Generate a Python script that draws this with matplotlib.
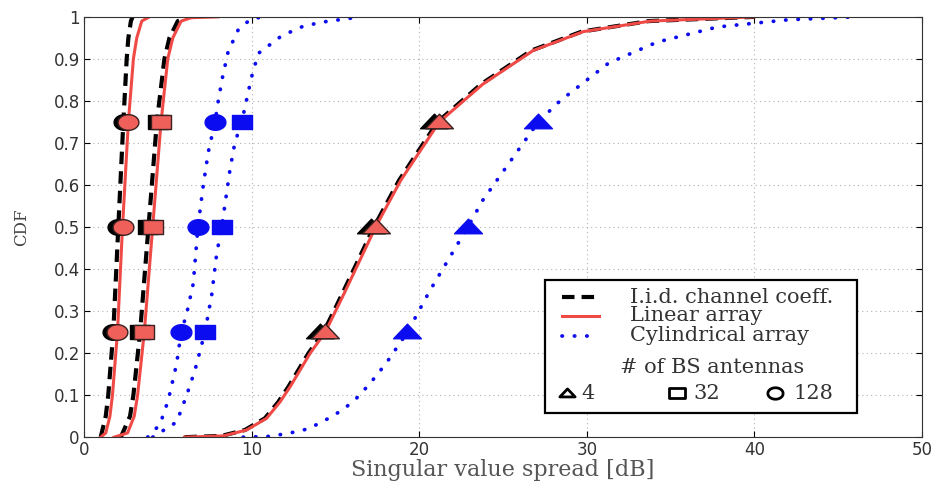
import matplotlib.pyplot as plt
from matplotlib.lines import Line2D
from matplotlib.patches import Rectangle
from matplotlib.path import Path
import numpy as np

# CDF curves (x in dB)
iid128_x = [1.0, 1.3, 1.45, 1.75, 2.05, 2.35, 2.55, 2.65, 2.8, 2.9]
iid128_y = [0.0, 0.05, 0.1, 0.25, 0.5, 0.75, 0.9, 0.95, 0.99, 1.0]
lin128_x = [1.0, 1.3, 1.55, 1.7, 2.0, 2.3, 2.65, 2.95, 3.15, 3.45, 3.9]
lin128_y = [0.0, 0.01, 0.05, 0.1, 0.25, 0.5, 0.75, 0.9, 0.95, 0.99, 1.0]

iid32_x = [2.2, 2.75, 2.95, 3.35, 3.85, 4.35, 4.8, 5.1, 5.6, 6.2]
iid32_y = [0.0, 0.05, 0.1, 0.25, 0.5, 0.75, 0.9, 0.95, 0.99, 1.0]
lin32_x = [1.8, 2.6, 3.0, 3.2, 3.6, 4.1, 4.6, 5.0, 5.3, 5.8, 6.4, 8.0]
lin32_y = [0.0, 0.01, 0.05, 0.1, 0.25, 0.5, 0.75, 0.9, 0.95, 0.99, 0.998, 1.0]

lin4_x = [6.0, 8.3, 9.7, 10.9, 11.7, 12.3, 12.9, 13.5, 14.4, 15.5, 17.4, 18.9, 21.2, 23.8, 26.8, 29.8, 33.8, 40.0]
lin4_y = [0.0, 0.003, 0.017, 0.045, 0.084, 0.12, 0.16, 0.2, 0.25, 0.34, 0.5, 0.611, 0.75, 0.84, 0.92, 0.965, 0.99, 1.0]
iid4_x = [6.0, 8.2, 9.6, 10.8, 11.6, 12.2, 12.8, 13.4, 14.3, 15.4, 17.3, 18.8, 21.1, 23.7, 26.7, 29.7, 33.7, 40.0]
iid4_y = lin4_y

cyl128_x = [3.8, 4.53, 5.03, 5.53, 5.8, 6.13, 6.52, 6.8, 7.12, 7.42, 7.82, 8.02, 8.27, 8.6, 9.2, 9.9, 10.6]
cyl128_y = [0.0, 0.03, 0.088, 0.175, 0.25, 0.294, 0.365, 0.5, 0.6, 0.679, 0.75, 0.802, 0.857, 0.917, 0.969, 0.993, 1.0]
cyl32_x = [4.1, 5.53, 6.13, 6.62, 7.22, 7.62, 7.92, 8.22, 8.71, 9.0, 9.41, 9.7, 10.0, 10.4, 11.8, 13.1, 14.3, 16.5]
cyl32_y = [0.0, 0.036, 0.1, 0.159, 0.25, 0.338, 0.437, 0.5, 0.636, 0.7, 0.75, 0.802, 0.857, 0.913, 0.955, 0.978, 0.988, 1.0]
cyl4_x = [9.5, 11.1, 12.3, 13.4, 14.7, 15.5, 16.2, 16.8, 17.4, 18.1, 19.3, 20.6, 22.9, 23.8, 27.1, 28.4, 31.3, 34.2, 37.8, 42.0, 46.0]
cyl4_y = [0.0, 0.002, 0.01, 0.02, 0.047, 0.067, 0.09, 0.116, 0.144, 0.18, 0.25, 0.346, 0.5, 0.564, 0.75, 0.8, 0.89, 0.94, 0.976, 0.993, 1.0]

# markers at CDF = 0.25, 0.5, 0.75
mark_y = [0.25, 0.5, 0.75]
iid_marks = {'o': [1.75, 2.05, 2.4], 's': [3.35, 3.85, 4.4], '^': [14.1, 17.1, 20.9]}
lin_marks = {'o': [2.0, 2.3, 2.65], 's': [3.6, 4.1, 4.6], '^': [14.4, 17.4, 21.2]}
cyl_marks = {'o': [5.8, 6.8, 7.82], 's': [7.22, 8.22, 9.41], '^': [19.3, 22.9, 27.1]}
antennas = ['4', '32', '128']

# the original is stretched sideways, so the markers are wide
t = np.linspace(0, 2 * np.pi, 40)
wide_marker = {
    'o': Path(np.column_stack([np.cos(t), 0.75 * np.sin(t)])),
    's': Path([(-1, -0.7), (1, -0.7), (1, 0.7), (-1, 0.7), (-1, -0.7)], closed=True),
    '^': Path([(-1, -0.45), (1, -0.45), (0, 0.6), (-1, -0.45)], closed=True),
}
msizes = {'o': 15, 's': 14, '^': 20}

red = '#f04a46'
red_fill = '#f0605a'
blue = '#0c0cf0'
txt = '#333333'

fig = plt.figure(figsize=(9.37, 4.82), dpi=100)
ax = fig.add_axes([0.0896, 0.093, 0.8944, 0.872])

dash = dict(color='black', lw=3, linestyle=(0, (3.0, 1.7)))
dot = dict(color=blue, lw=2.7, linestyle=(0, (0.1, 3.2)), dash_capstyle='round')
solid = dict(color=red, lw=2.2)

for x, y in [(iid128_x, iid128_y), (iid32_x, iid32_y), (iid4_x, iid4_y)]:
    ax.plot(x, y, **dash)
for x, y in [(lin128_x, lin128_y), (lin32_x, lin32_y), (lin4_x, lin4_y)]:
    ax.plot(x, y, **solid)
for x, y in [(cyl128_x, cyl128_y), (cyl32_x, cyl32_y), (cyl4_x, cyl4_y)]:
    ax.plot(x, y, **dot)

for m, xs in iid_marks.items():
    ax.plot(xs, mark_y, marker=wide_marker[m], ms=msizes[m], mfc='black', mec='black', ls='none')
for m, xs in lin_marks.items():
    ax.plot(xs, mark_y, marker=wide_marker[m], ms=msizes[m], mfc=red_fill, mec='#3a2020', mew=1, ls='none')
for m, xs in cyl_marks.items():
    ax.plot(xs, mark_y, marker=wide_marker[m], ms=msizes[m], mfc=blue, mec=blue, ls='none')

ax.set_xlim(0, 50)
ax.set_ylim(0, 1)
ax.set_xticks(range(0, 51, 10))
ax.set_yticks([i / 10 for i in range(11)])
ax.set_yticklabels(['0', '0.1', '0.2', '0.3', '0.4', '0.5', '0.6', '0.7', '0.8', '0.9', '1'])
ax.tick_params(direction='in', length=4, labelsize=12, labelcolor=txt, top=True, right=True, pad=3)
for lab in ax.get_xticklabels() + ax.get_yticklabels():
    lab.set_family('DejaVu Sans')
ax.grid(True, linestyle=(0, (1, 3)), color='#b0b0b0', lw=0.8)
for s in ax.spines.values():
    s.set_color('#333333')

ax.set_xlabel('Singular value spread [dB]', family='DejaVu Serif', fontsize=16, color='#555555', labelpad=0)
ax.set_ylabel('CDF', family='DejaVu Serif', fontsize=12, color='#444444', labelpad=17)

# legend box, laid out by hand like the original
ax.add_patch(Rectangle((0.55, 0.057), 0.372, 0.317, transform=ax.transAxes,
                       facecolor='white', edgecolor='black', lw=1.6, zorder=4))
names = ['I.i.d. channel coeff.', 'Linear array', 'Cylindrical array']
rows = [0.333, 0.289, 0.241]
for style, name, yy in zip([dash, solid, dot], names, rows):
    ax.add_line(Line2D([0.571, 0.615], [yy, yy], transform=ax.transAxes, zorder=5, **style))
    ax.text(0.652, yy, name, transform=ax.transAxes, family='DejaVu Serif', fontsize=15,
            color=txt, va='center', ha='left', zorder=5)
ax.text(0.749, 0.165, '# of BS antennas', transform=ax.transAxes, family='DejaVu Serif',
        fontsize=15, color=txt, va='center', ha='center', zorder=5)
for m, n, mx, tx in zip(['^', 's', 'o'], antennas, [0.576, 0.708, 0.825], [0.594, 0.727, 0.846]):
    ax.add_line(Line2D([mx], [0.105], transform=ax.transAxes, marker=wide_marker[m], ms=11,
                       mfc='white', mec='black', mew=2, ls='none', zorder=5))
    ax.text(tx, 0.105, n, transform=ax.transAxes, family='DejaVu Serif', fontsize=15,
            color=txt, va='center', ha='left', zorder=5)

fig.savefig('out.png', dpi=100)
